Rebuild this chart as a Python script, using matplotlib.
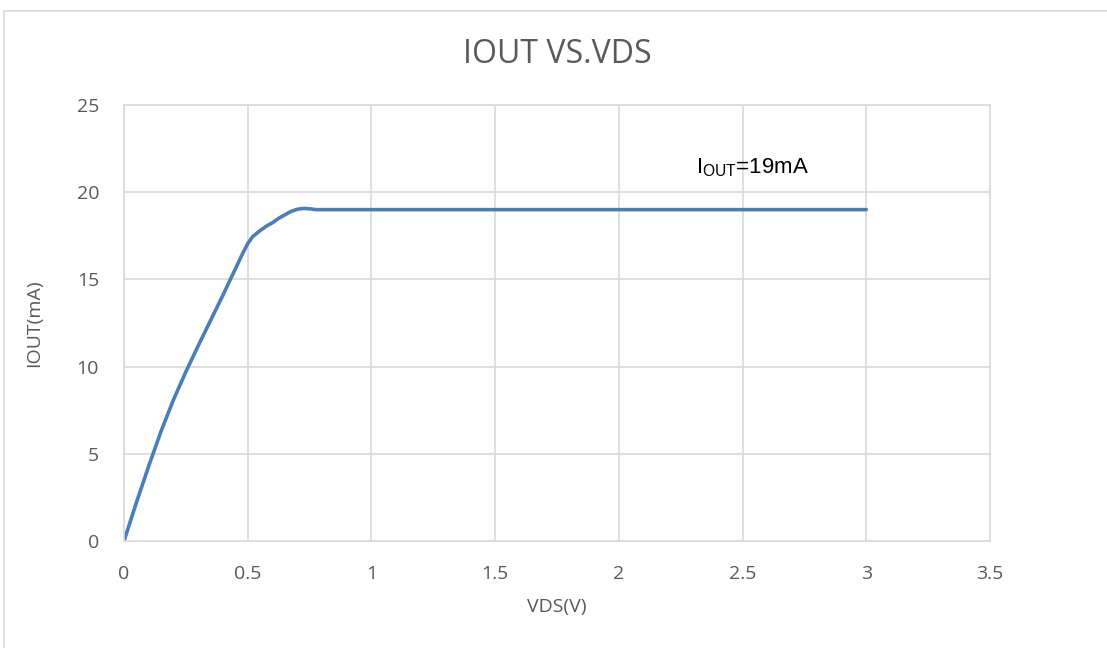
import matplotlib
matplotlib.use("Agg")
import matplotlib.pyplot as plt
from matplotlib.patches import Rectangle

# values
vds = [0, 0.05, 0.1, 0.15, 0.2, 0.25, 0.3, 0.35, 0.4, 0.45, 0.48, 0.5, 0.52,
       0.55, 0.575, 0.6, 0.625, 0.65, 0.675, 0.7, 0.725, 0.75, 0.775, 0.8,
       1.0, 1.5, 2.0, 2.5, 3.0]
iout = [0, 2.2, 4.3, 6.3, 8.1, 9.7, 11.2, 12.65, 14.1, 15.6, 16.5, 17.05, 17.45,
        17.8, 18.05, 18.25, 18.5, 18.7, 18.9, 19.02, 19.07, 19.05, 19.0, 19.0,
        19.0, 19.0, 19.0, 19.0, 19.0]
xticks = [0, 0.5, 1, 1.5, 2, 2.5, 3, 3.5]
xtick_labels = ['0', '0.5', '1', '1.5', '2', '2.5', '3', '3.5']
yticks = [0, 5, 10, 15, 20, 25]

plt.rcParams['font.family'] = ['Open Sans', 'DejaVu Sans']
plt.rcParams['mathtext.fontset'] = 'custom'
plt.rcParams['mathtext.rm'] = 'Liberation Sans'

grey = '#595959'
gridc = '#d9d9d9'

fig = plt.figure(figsize=(11.07, 6.48), dpi=100)
fig.patches.append(Rectangle((4 / 1107, -0.1), 1.2, 1 - 11 / 648 + 0.1,
                             transform=fig.transFigure, fill=False,
                             edgecolor=gridc, linewidth=1.2))
ax = fig.add_axes([124 / 1107, 1 - 541 / 648, (990 - 124) / 1107, (541 - 105) / 648])

ax.plot(vds, iout, color='#4a7ebb', linewidth=2.6, solid_capstyle='round',
        solid_joinstyle='round')

ax.set_xlim(0, 3.5)
ax.set_ylim(0, 25)
ax.set_xticks(xticks)
ax.set_xticklabels(xtick_labels)
ax.set_yticks(yticks)
ax.grid(True, color=gridc, linewidth=1.2)
ax.set_axisbelow(True)
for s in ax.spines.values():
    s.set_color(gridc)
    s.set_linewidth(1.2)
ax.tick_params(axis='x', length=0, labelsize=14, colors=grey, pad=17)
ax.tick_params(axis='y', length=0, labelsize=14, colors=grey, pad=18)

ax.set_xlabel('VDS(V)', fontsize=14, color=grey, labelpad=11)
ax.set_ylabel('IOUT(mA)', fontsize=14, color=grey, labelpad=24)
ax.set_title('IOUT VS.VDS', fontsize=23, color=grey, pad=30)

ax.text(2.31, 21.1, r'I$_{\mathrm{OUT}}$=19mA', fontsize=16, color='black',
        family='Liberation Sans')

fig.savefig('out.png', dpi=100)
